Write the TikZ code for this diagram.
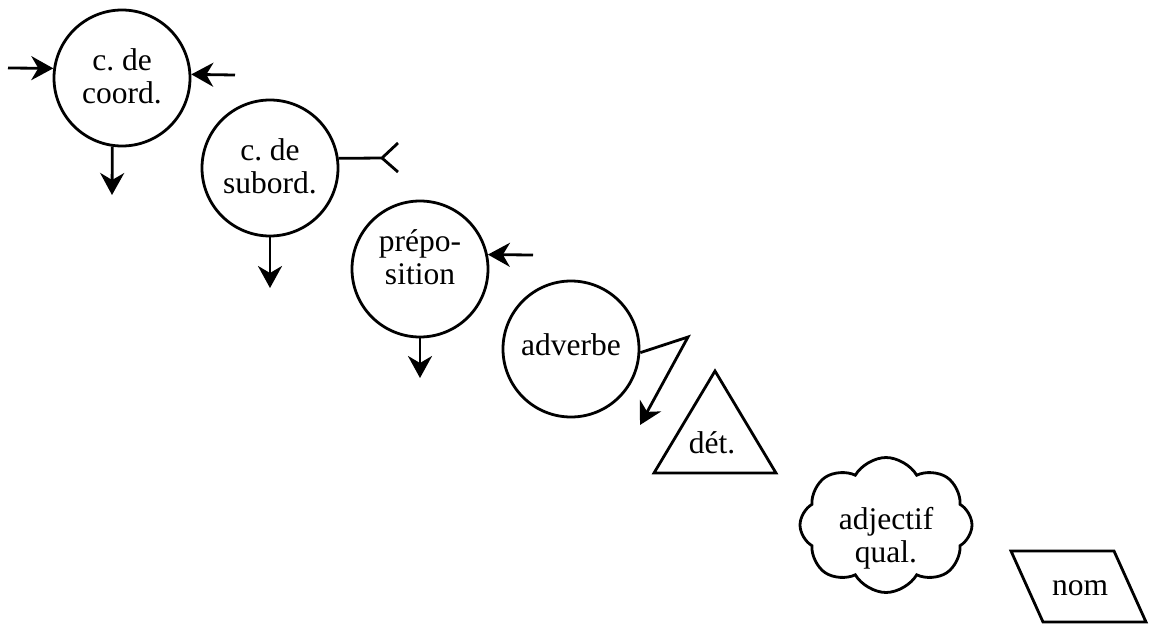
\documentclass[tikz,border=0pt]{standalone}
\usepackage{fontspec}
\setmainfont{Liberation Serif}
\usetikzlibrary{arrows.meta,shapes.geometric,shapes.symbols}
\begin{document}
\frenchspacing
\begin{tikzpicture}[x=1pt,y=-1pt, line width=2.8pt,
  txt/.style={font=\fontsize{31.5}{33}\selectfont, align=center, inner sep=0pt},
  circ/.style={draw, circle, minimum size=136pt, inner sep=0pt},
  arr/.style={-{Stealth[length=22pt,width=24pt,inset=7pt]}},
]
\useasboundingbox (0,0) rectangle (1149,625);
% circle 1
\node[circ] (cc) at (122,78) {};
\node[txt] (cct) at (122,76) {c. de\\coord.};
\coordinate (ccL) at (8,68);
\coordinate (ccR) at (235,75);
\coordinate (ccD) at (112,195);
\draw[arr] (ccL) -- (cc.172);
\draw[arr] (ccR) -- (cc.3);
\draw[arr] (cc.262) -- (ccD);
% circle 2
\node[circ] (cs) at (270,168) {};
\node[txt] (cst) at (270,166) {c. de\\subord.};
\coordinate (csF) at (382,158);
\coordinate (csF1) at (398,143);
\coordinate (csF2) at (398,172);
\coordinate (csD) at (270,288);
\draw (cs.8) -- (csF) -- (csF1);
\draw (csF) -- (csF2);
\draw[arr] (cs.south) -- (csD);
% circle 3
\node[circ] (cp) at (420,269) {};
\node[txt] (cpt) at (420,257) {prépo-\\sition};
\coordinate (cpR) at (533,255);
\coordinate (cpD) at (420,378);
\draw[arr] (cpR) -- (cp.12);
\draw[arr] (cp.south) -- (cpD);
% circle 4
\node[circ] (ca) at (571,349) {};
\node[txt] (cat) at (571,345) {adverbe};
\coordinate (caK) at (688,337);
\coordinate (caD) at (640,425);
\draw[arr] (ca.-3) -- (caK) -- (caD);
% triangle
\draw (715,371) -- (776,473) -- (654,473) -- cycle;
\node[txt] (det) at (712,443) {dét.};
% cloud
\node[draw, cloud, cloud puffs=8, cloud puff arc=120, aspect=1.27, minimum width=172pt, minimum height=135pt, inner sep=0pt] (adjc) at (886,525) {};
\node[txt] (adj) at (886,538) {adjectif\\qual.};
% parallelogram
\draw (1011,551) -- (1114,551) -- (1146,622) -- (1043,622) -- cycle;
\node[txt] (nom) at (1080,588) {nom};
\end{tikzpicture}
\end{document}
